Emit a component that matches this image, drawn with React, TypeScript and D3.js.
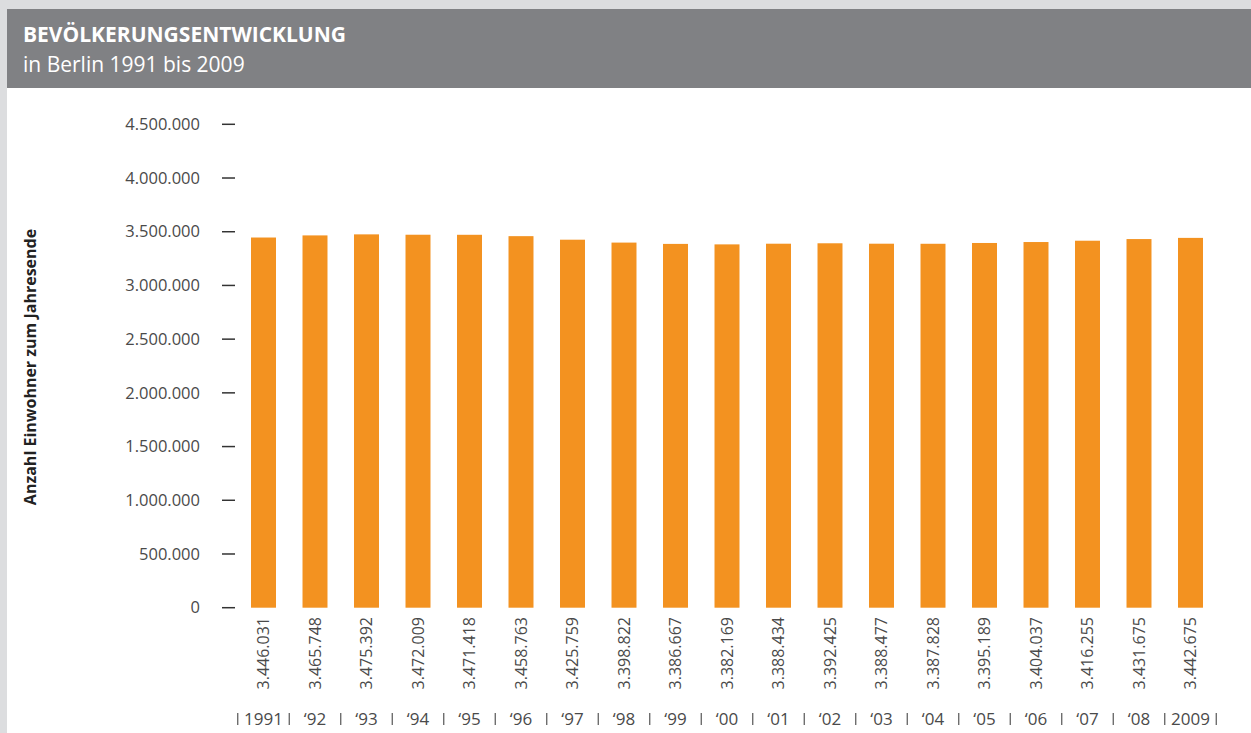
import React from "react";
import * as d3 from "d3";

const years = ["1991","‘92","‘93","‘94","‘95","‘96","‘97","‘98","‘99","‘00","‘01","‘02","‘03","‘04","‘05","‘06","‘07","‘08","2009"];
const population = [3446031,3465748,3475392,3472009,3471418,3458763,3425759,3398822,3386667,3382169,3388434,3392425,3388477,3387828,3395189,3404037,3416255,3431675,3442675];
const yTicks = [0,500000,1000000,1500000,2000000,2500000,3000000,3500000,4000000,4500000];

const W = 1251, H = 733;
const fmt = (v: number) => d3.format(",")(v).replace(/,/g, ".");

export default function App() {
  const x = d3.scaleBand<string>().domain(years).range([237.75, 1216.25]).paddingInner(0.515).paddingOuter(0.2575);
  const y = d3.scaleLinear().domain([0, 4500000]).range([607.7, 124.3]);
  const step = x.step();
  const font = "'Open Sans', sans-serif";
  const txt = "#4a4a4a";
  return (
    <svg width={W} height={H} style={{ position: "absolute", left: 0, top: 0, display: "block" }}>
      <rect x={0} y={0} width={W} height={H} fill="#dcdddf" />
      <rect x={7} y={9} width={W - 7} height={H - 9} fill="#ffffff" />
      <rect x={7} y={9} width={W - 7} height={79} fill="#808184" />
      <text x={23} y={42} fill="#ffffff" fontFamily={font} fontWeight={700} fontSize={21}>BEVÖLKERUNGSENTWICKLUNG</text>
      <text x={23} y={72} fill="#ffffff" fontFamily={font} fontWeight={400} fontSize={21}>in Berlin 1991 bis 2009</text>

      <text transform={`translate(36,367) rotate(-90)`} textAnchor="middle" fill="#222" fontFamily={font} fontWeight={700} fontSize={16}>Anzahl Einwohner zum Jahresende</text>

      {yTicks.map((t) => (
        <g key={t}>
          <line x1={222} x2={235} y1={y(t)} y2={y(t)} stroke="#333" strokeWidth={1.5} />
          <text x={200} y={y(t)} dy="0.35em" textAnchor="end" fill={txt} fontFamily={font} fontSize={16.5}>{fmt(t)}</text>
        </g>
      ))}

      {years.map((yr, i) => {
        const bx = x(yr)!;
        const cx = bx + x.bandwidth() / 2;
        return (
          <g key={yr}>
            <rect x={bx} y={y(population[i])} width={x.bandwidth()} height={y(0) - y(population[i])} fill="#f39220" />
            <text transform={`translate(${cx},617) rotate(-90)`} dy="0.35em" textAnchor="end" fill={txt} fontFamily={font} fontSize={16}>{fmt(population[i])}</text>
            <text x={cx} y={725} textAnchor="middle" fill={txt} fontFamily={font} fontSize={17}>{yr}</text>
            <line x1={bx - (step - x.bandwidth()) / 2} x2={bx - (step - x.bandwidth()) / 2} y1={713} y2={725} stroke="#555" strokeWidth={1.2} />
          </g>
        );
      })}
      <line x1={x(years[years.length - 1])! + x.bandwidth() + (step - x.bandwidth()) / 2} x2={x(years[years.length - 1])! + x.bandwidth() + (step - x.bandwidth()) / 2} y1={713} y2={725} stroke="#555" strokeWidth={1.2} />
    </svg>
  );
}
